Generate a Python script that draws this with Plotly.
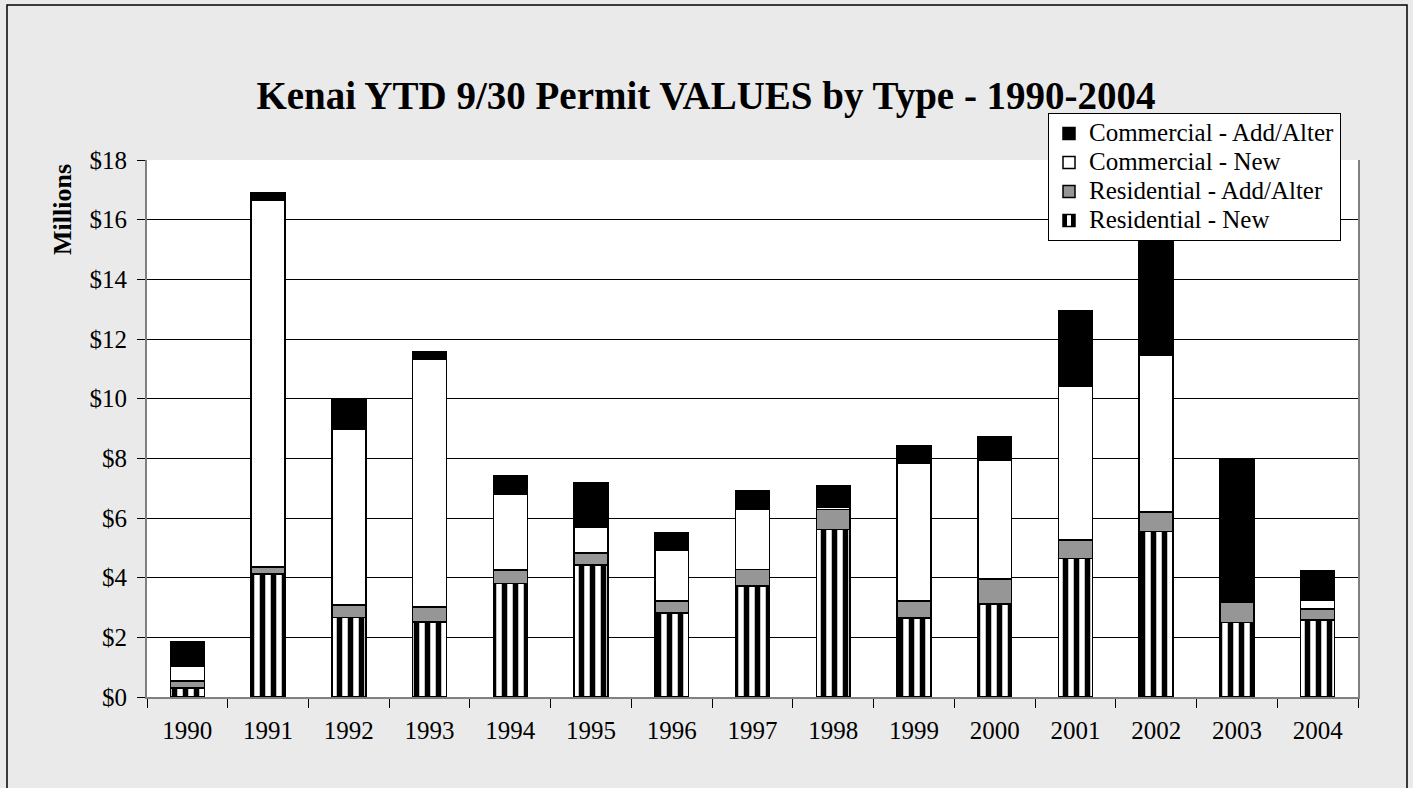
import plotly.graph_objects as go

years = [str(y) for y in range(1990, 2005)]
res_new = [0.30, 4.13, 2.67, 2.52, 3.81, 4.42, 2.82, 3.72, 5.62, 2.64, 3.12, 4.65, 5.54, 2.50, 2.58]
res_add = [0.24, 0.23, 0.42, 0.49, 0.45, 0.40, 0.39, 0.55, 0.66, 0.58, 0.83, 0.62, 0.66, 0.66, 0.37]
com_new = [0.50, 12.28, 5.90, 8.32, 2.52, 0.88, 1.72, 2.03, 0.07, 4.62, 3.98, 5.14, 5.24, 0.00, 0.30]
com_add = [0.81, 0.27, 0.99, 0.23, 0.65, 1.49, 0.58, 0.63, 0.73, 0.58, 0.81, 2.54, 3.85, 4.83, 0.98]
series_names = ["Residential - New", "Residential - Add/Alter",
                "Commercial - New", "Commercial - Add/Alter"]

y_ticks = [0, 2, 4, 6, 8, 10, 12, 14, 16, 18]
y_labels = ["$" + str(v) for v in y_ticks]

FONT = "Liberation Serif, Times New Roman, serif"
line = dict(color="black", width=1.5)

def leg(name):
    return '<span style="font-size:25px">' + name + '</span>'

fig = go.Figure()
fig.add_trace(go.Bar(
    x=years, y=res_new, name=leg(series_names[0]),
    marker=dict(color="white", line=line,
                pattern=dict(shape="|", fgcolor="black", bgcolor="white",
                             fgopacity=1, size=11, solidity=0.5, fillmode="replace")),
))
fig.add_trace(go.Bar(
    x=years, y=res_add, name=leg(series_names[1]),
    marker=dict(color="#969696", line=line),
))
fig.add_trace(go.Bar(
    x=years, y=com_new, name=leg(series_names[2]),
    marker=dict(color="white", line=line),
))
fig.add_trace(go.Bar(
    x=years, y=com_add, name=leg(series_names[3]),
    marker=dict(color="black", line=line),
))

L, R, T, B = 147, 55, 160, 91
W, H = 1413, 788
pw = W - L - R
ph = H - T - B

def px(xp):
    return (xp - L) / pw

def py(yp):
    return (H - B - yp) / ph

fig.update_layout(
    width=W, height=H,
    barmode="stack", bargap=0.58,
    paper_bgcolor="#eaeaea", plot_bgcolor="white",
    margin=dict(l=L, r=R, t=T, b=B, pad=0),
    font=dict(family=FONT, size=24, color="black"),
    title=dict(text="<b>Kenai YTD 9/30 Permit VALUES by Type - 1990-2004</b>",
               x=706 / W, xanchor="center", y=1 - 95 / H, yanchor="middle",
               font=dict(family=FONT, size=39, color="black")),
    showlegend=True,
    legend=dict(traceorder="reversed", x=px(1048), xanchor="left",
                y=py(113), yanchor="top",
                bgcolor="white", bordercolor="black", borderwidth=1,
                font=dict(family=FONT, size=20, color="black"),
                tracegroupgap=0, itemwidth=30),
    xaxis=dict(type="category", showgrid=False, showline=True, linecolor="#808080",
               linewidth=2, ticks="outside", tickson="boundaries", ticklen=9,
               tickcolor="black", tickwidth=1, ticklabelstandoff=10,
               tickfont=dict(family=FONT, size=25, color="black")),
    yaxis=dict(range=[0, 18], tickvals=y_ticks, ticktext=y_labels,
               showgrid=True, gridcolor="black", gridwidth=1,
               showline=True, linecolor="#808080", linewidth=2, mirror=True,
               ticks="outside", ticklen=8, tickcolor="black", tickwidth=1,
               zeroline=False, ticklabelstandoff=5,
               tickfont=dict(family=FONT, size=25, color="black")),
    annotations=[dict(text="<b>Millions</b>", textangle=-90, showarrow=False,
                      xref="paper", yref="paper", x=px(62), y=py(210),
                      xanchor="center", yanchor="middle",
                      font=dict(family=FONT, size=26, color="black"))],
)

# outer chart border
fig.add_shape(type="rect", xref="paper", yref="paper",
              x0=px(7), x1=px(1407), y0=py(792), y1=py(5),
              line=dict(color="black", width=1.5), fillcolor="rgba(0,0,0,0)",
              layer="below")

fig.write_html("out.html", config={"displayModeBar": False},
               post_script="document.body.style.margin='0';")
